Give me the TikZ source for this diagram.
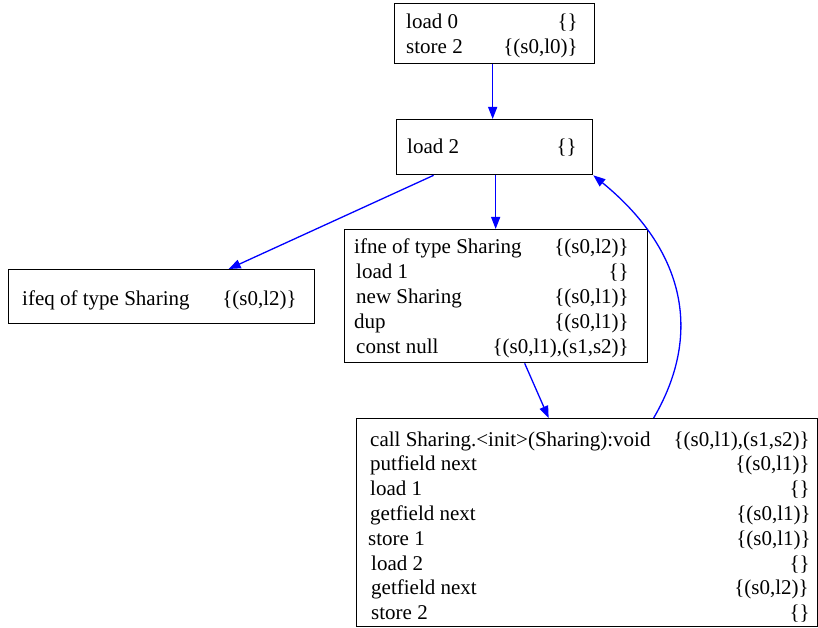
\documentclass[tikz,border=0pt]{standalone}
\usepackage{fontspec}
\setmainfont{Liberation Serif}
\usetikzlibrary{arrows.meta}
\begin{document}
\begin{tikzpicture}[x=1pt,y=-1pt,
  box/.style={draw=black, line width=1.3pt, rectangle, inner sep=0pt, anchor=north west},
  lt/.style={anchor=base west, inner sep=0pt, font=\fontsize{21}{25}\selectfont},
  rt/.style={anchor=base east, inner sep=0pt, font=\fontsize{21}{25}\selectfont},
  edge/.style={draw=blue, line width=1.3pt, -{Triangle[length=12pt,width=9pt]}}]
\useasboundingbox (0,0) rectangle (818,628);
% boxes
\node[box, minimum width=200pt, minimum height=60pt] (A) at (394,3) {};
\node[box, minimum width=196pt, minimum height=55pt] (B) at (396,119) {};
\node[box, minimum width=306pt, minimum height=54pt] (C) at (8,269) {};
\node[box, minimum width=303pt, minimum height=133pt] (D) at (344,229) {};
\node[box, minimum width=461pt, minimum height=208pt] (E) at (356,418) {};
% texts A
\node[lt] (a1) at (406,29) {load 0};
\node[rt] (a2) at (578,29) {\{\}};
\node[lt] (a3) at (406,53.5) {store 2};
\node[rt] (a4) at (578,53.5) {\{(s0,l0)\}};
% B
\node[lt] (b1) at (407,154) {load 2};
\node[rt] (b2) at (577,154) {\{\}};
% C
\node[lt] (c1) at (22,305) {ifeq of type Sharing};
\node[rt] (c2) at (297,305) {\{(s0,l2)\}};
% D
\node[lt] (d1) at (354,253) {ifne of type Sharing};
\node[rt] (d2) at (629,253) {\{(s0,l2)\}};
\node[lt] (d3) at (356,278) {load 1};
\node[rt] (d4) at (629,278) {\{\}};
\node[lt] (d5) at (356,303) {new Sharing};
\node[rt] (d6) at (629,303) {\{(s0,l1)\}};
\node[lt] (d7) at (354,328) {dup};
\node[rt] (d8) at (629,328) {\{(s0,l1)\}};
\node[lt] (d9) at (356,353) {const null};
\node[rt] (d10) at (629,353) {\{(s0,l1),(s1,s2)\}};
% E
\node[lt] (e1) at (370,446) {call Sharing.<init>(Sharing):void};
\node[rt] (e2) at (810,446) {\{(s0,l1),(s1,s2)\}};
\node[lt] (e3) at (370,470.8) {putfield next};
\node[rt] (e4) at (810,470.8) {\{(s0,l1)\}};
\node[lt] (e5) at (370,495.6) {load 1};
\node[rt] (e6) at (810,495.6) {\{\}};
\node[lt] (e7) at (370,520.4) {getfield next};
\node[rt] (e8) at (811,520.4) {\{(s0,l1)\}};
\node[lt] (e9) at (368,545.2) {store 1};
\node[rt] (e10) at (811,545.2) {\{(s0,l1)\}};
\node[lt] (e11) at (371,570) {load 2};
\node[rt] (e12) at (810,570) {\{\}};
\node[lt] (e13) at (371,594.8) {getfield next};
\node[rt] (e14) at (809,594.8) {\{(s0,l2)\}};
\node[lt] (e15) at (371,619.6) {store 2};
\node[rt] (e16) at (810,619.6) {\{\}};
% edges
\draw[edge] ([xshift=-2pt]A.south) -- ([xshift=-2pt]B.north);
\draw[edge] ([xshift=1pt]B.south) -- ([xshift=-0.5pt]D.north);
\draw[edge] ([xshift=-61pt]B.south) -- ([xshift=67pt]C.north);
\draw[edge] ([xshift=28.5pt]D.south) -- ([xshift=-38.5pt]E.north);
\draw[edge] ([xshift=66.5pt]E.north) .. controls +(52,-89) and +(87,71) .. (B.south east);
\end{tikzpicture}
\end{document}
